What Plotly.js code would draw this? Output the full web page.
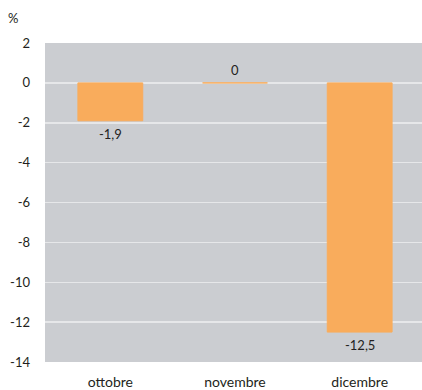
<!DOCTYPE html>
<html><head><meta charset="utf-8">
<script src="https://cdn.plot.ly/plotly-3.0.1.min.js"></script>
<style>html,body{margin:0;padding:0;background:#fff}</style>
</head><body><div id="chart" style="width:422px;height:390px"></div>
<script>
const categories = ['ottobre', 'novembre', 'dicembre'];
const values = [-1.9, 0, -12.5];
const yTicks = [2, 0, -2, -4, -6, -8, -10, -12, -14];

const orange = '#f9ac5c';
const textColor = '#231f20';
const fontFam = 'Lato, "Open Sans", sans-serif';

const annotations = values.map((v, i) => ({
  x: categories[i], y: v, xref: 'x', yref: 'y',
  text: String(v).replace('.', ','),
  showarrow: false,
  yanchor: v < 0 ? 'top' : 'bottom',
  yshift: v < 0 ? -3 : 3,
  font: {family: fontFam, size: 13, color: textColor}
}));
annotations.push({
  xref: 'paper', yref: 'paper', x: -0.085, y: 1.078, xanchor: 'center', yanchor: 'middle',
  text: '%', showarrow: false, font: {family: fontFam, size: 13, color: textColor}
});

Plotly.newPlot('chart', [{
  type: 'bar', x: categories, y: values, width: 0.52,
  marker: {color: orange, line: {color: orange, width: 1}},
  hoverinfo: 'none'
}], {
  width: 422, height: 390,
  margin: {l: 45, r: 0, t: 43, b: 28, pad: 0},
  paper_bgcolor: '#ffffff', plot_bgcolor: '#cbcdd1',
  showlegend: false,
  font: {family: fontFam, size: 13, color: textColor},
  xaxis: {range: [-0.524, 2.5], showgrid: false, zeroline: false, showline: false,
          ticks: '', ticklabelstandoff: 10, tickfont: {family: fontFam, size: 14, color: textColor}},
  yaxis: {range: [-14, 2], tickvals: yTicks, ticktext: yTicks.map(String),
          showgrid: true, gridcolor: '#e6e7e9', gridwidth: 1.5,
          zeroline: true, zerolinecolor: '#e6e7e9', zerolinewidth: 1.5,
          showline: false, ticks: '', ticklabelstandoff: 14,
          tickfont: {family: fontFam, size: 13, color: textColor}},
  annotations: annotations
}, {displayModeBar: false, staticPlot: true});
</script></body></html>
